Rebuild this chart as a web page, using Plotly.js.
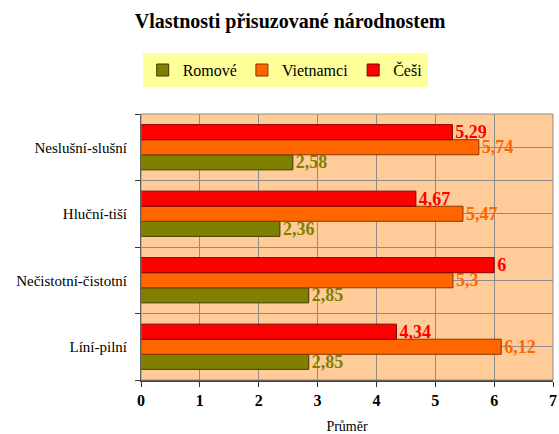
<!DOCTYPE html>
<html>
<head>
<meta charset="utf-8">
<script src="https://cdn.plot.ly/plotly-3.0.1.min.js"></script>
<style>html,body{margin:0;padding:0;background:#fff;}#chart{width:559px;height:434px;}</style>
</head>
<body>
<div id="chart"></div>
<script>
// Categories listed bottom to top
const categories = ["Líní-pilní", "Nečistotní-čistotní", "Hluční-tiší", "Neslušní-slušní"];
const seriesNames = ["Romové", "Vietnamci", "Češi"];
const romove = [2.85, 2.85, 2.36, 2.58];
const vietnamci = [6.12, 5.3, 5.47, 5.74];
const cesi = [4.34, 6, 4.67, 5.29];
const xTicks = [0, 1, 2, 3, 4, 5, 6, 7];

const colors = ["#808000", "#FF6600", "#FF0000"];
const outlines = ["#3a3a00", "#8a3300", "#800000"];
const values = [romove, vietnamci, cesi];
const pos = categories.map((c, i) => i);
const serif = "Liberation Serif";

const traces = values.map((vals, k) => ({
  type: "bar",
  orientation: "h",
  name: seriesNames[k],
  x: vals,
  y: pos,
  marker: {color: colors[k], line: {color: outlines[k], width: 1}},
  text: vals.map(v => String(v).replace(".", ",")),
  textposition: "outside",
  constraintext: "none",
  cliponaxis: false,
  textfont: {family: serif, size: 18, color: colors[k], weight: "bold"},
  hoverinfo: "none"
}));

const bounds = [];
for (let i = 0; i <= categories.length; i++) bounds.push(i - 0.5);

const layout = {
  width: 559, height: 434,
  margin: {l: 141, r: 6, t: 114, b: 54},
  paper_bgcolor: "#ffffff",
  plot_bgcolor: "#FFCC99",
  font: {family: serif},
  barmode: "group",
  bargap: 0.32,
  bargroupgap: 0,
  title: {
    text: "<b>Vlastnosti přisuzované národnostem</b>",
    font: {family: serif, size: 20, color: "#000"},
    x: 0.519, xref: "container", xanchor: "center",
    y: 0.952, yref: "container", yanchor: "middle"
  },
  showlegend: true,
  legend: {
    orientation: "h",
    x: 0.35, xanchor: "center",
    y: 1.165, yanchor: "middle",
    bgcolor: "#FFFF99",
    font: {family: serif, size: 16, color: "#000"},
    traceorder: "normal",
    itemwidth: 30,
    tracegroupgap: 0
  },
  xaxis: {
    range: [0, 7],
    tickvals: xTicks,
    ticktext: xTicks.map(String),
    tickfont: {family: serif, size: 16, color: "#000", weight: "bold"},
    ticks: "outside", ticklen: 5, tickcolor: "#333",
    showgrid: true, gridcolor: "#8c8c8c", gridwidth: 1,
    showline: true, linecolor: "#4a3f35", linewidth: 2,
    zeroline: false,
    title: {text: "Průměr", font: {family: serif, size: 14, color: "#000"}, standoff: 14},
    fixedrange: true
  },
  yaxis: {
    range: [-0.5, categories.length - 0.5],
    tickvals: pos,
    ticktext: categories,
    tickfont: {family: serif, size: 15, color: "#000"},
    ticks: "",
    ticklabelstandoff: 10,
    showgrid: true, gridcolor: "#8c8c8c", gridwidth: 1,
    minor: {tickvals: bounds, showgrid: true, gridcolor: "#8c8c8c", gridwidth: 1, ticks: "outside", ticklen: 5, tickcolor: "#333"},
    showline: true, linecolor: "#333", linewidth: 1,
    zeroline: false,
    fixedrange: true
  },
  shapes: [{
    type: "rect", xref: "paper", yref: "paper", x0: 0, x1: 1, y0: 0, y1: 1,
    line: {color: "#8c8c8c", width: 1}, fillcolor: "rgba(0,0,0,0)", layer: "above"
  }]
};

Plotly.newPlot("chart", traces, layout, {displayModeBar: false, staticPlot: true});
</script>
</body>
</html>
